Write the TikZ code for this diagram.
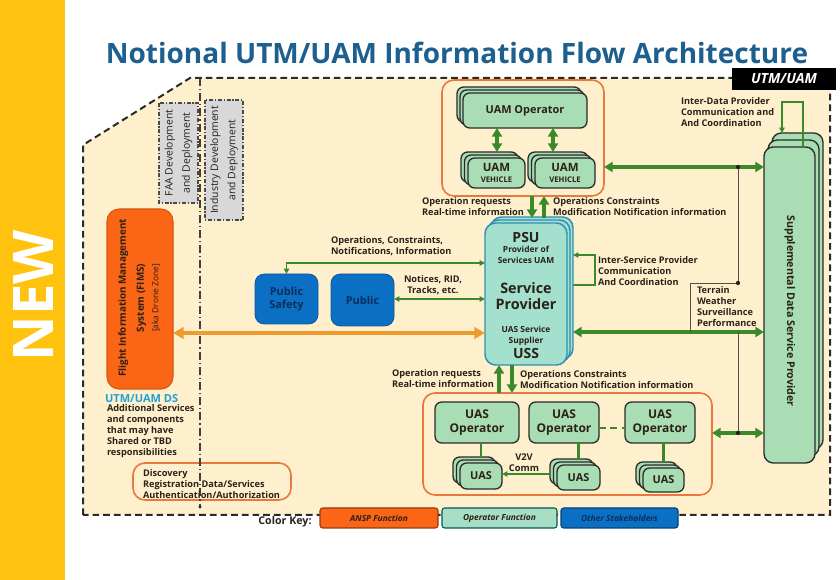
\documentclass[tikz,border=0pt]{standalone}
\usepackage{fontspec}
\setmainfont{Open Sans}
\usetikzlibrary{arrows.meta,calc}

\definecolor{gold}{HTML}{FFC20E}
\definecolor{beige}{HTML}{FEF0CD}
\definecolor{titleblue}{HTML}{1D5F8F}
\definecolor{opgreen}{HTML}{A9DDB3}
\definecolor{psufill}{HTML}{A3E0CD}
\definecolor{psuedge}{HTML}{2F8FB3}
\definecolor{linkgreen}{HTML}{3A8A2C}
\definecolor{ansp}{HTML}{FA6516}
\definecolor{grpedge}{HTML}{E8783E}
\definecolor{stake}{HTML}{0B70C4}
\definecolor{staketext}{HTML}{0B2E5C}
\definecolor{devgray}{HTML}{D8D8D8}
\definecolor{dsblue}{HTML}{22A0D8}
\definecolor{ink}{HTML}{2B2118}
\definecolor{flowor}{HTML}{EE9A2E}
\definecolor{edge}{HTML}{2A2A2A}
\definecolor{keyop}{HTML}{A8DEC6}

% box from corner (x1,y1) to (x2,y2), measured in pixels
\newcommand\bx[7]{%
  \node[#6, minimum width={(#4-#2)*0.75pt}, minimum height={(#5-#3)*0.75pt}]
    (#1) at ({(#2+#4)/2},{(#3+#5)/2}) {#7};}
% two copies behind a box, shifted by (dx,dy) and 2(dx,dy)
\newcommand\backs[7]{%
  \path[#7] ({#1+2*(#5)},{#2+2*(#6)}) rectangle ({#3+2*(#5)},{#4+2*(#6)});
  \path[#7] ({#1+(#5)},{#2+(#6)}) rectangle ({#3+(#5)},{#4+(#6)});}
\newcommand\lblfont{\fontsize{6.9}{8.25}\selectfont\bfseries}

\begin{document}
\begin{tikzpicture}[
  x=0.75pt, y=-0.75pt,
  every node/.style={inner sep=0pt, outer sep=0pt, text=ink},
  lbl/.style={font=\lblfont, align=left},
  grp/.style={draw=grpedge, line width=1.2pt, rounded corners=9pt},
  opbox/.style={draw=edge, line width=1pt, fill=opgreen, rounded corners=5pt},
  psubox/.style={draw=psuedge, line width=1.1pt, fill=psufill, rounded corners=8pt},
  stakebox/.style={draw=stake!80!black, line width=0.6pt, fill=stake, rounded corners=7pt, align=center, text=staketext, font=\fontsize{8.2}{10}\selectfont\bfseries},
  devbox/.style={draw=edge!85, line width=1pt, fill=devgray, dash pattern=on 3pt off 1.4pt on 0.8pt off 1.4pt},
  fimsbox/.style={draw=ansp!85!black, line width=0.8pt, fill=ansp, rounded corners=9pt},
  keybox/.style={line width=0.8pt, rounded corners=2pt, font=\fontsize{6.3}{7}\selectfont\bfseries\itshape},
  biglink/.style={draw=linkgreen, line width=2.4pt, >={Triangle[length=6.5pt,width=7.5pt]}},
  thinlink/.style={draw=linkgreen, line width=1.1pt, >={Triangle[length=4pt,width=4pt]}},
  flow/.style={draw=flowor, line width=2.8pt, >={Triangle[length=8pt,width=8.5pt]}},
  tline/.style={draw=ink!80, line width=0.7pt},
  frame/.style={draw=edge, line width=1.5pt, dash pattern=on 5pt off 3pt},
  divider/.style={draw=edge!90, line width=1pt, dash pattern=on 6pt off 2.2pt on 1pt off 2.2pt},
]
\useasboundingbox (0,0) rectangle (840,580);
\fill[white] (0,0) rectangle (840,580);

% side banner
\fill[gold] (0,0) rectangle (65,580);
\node[rotate=90, text=white, font=\fontsize{42}{42}\selectfont\bfseries] (newtag) at (34,296) {NEW};

% heading
\node[font=\fontsize{21}{24}\selectfont\bfseries, text=titleblue] (title) at (457,53)
  {Notional UTM/UAM Information Flow Architecture};

% UTM/UAM domain
\fill[beige] (190,78) -- (830,78) -- (830,515) -- (83,515) -- (83,145) -- cycle;
\draw[frame] (83,515) -- (83,145) -- (190,78) -- (830,78) -- (830,515) -- cycle;
\node[fill=black, text=white, font=\fontsize{10.5}{12}\selectfont\bfseries\itshape,
  minimum width=104*0.75pt, minimum height=22*0.75pt] (utmtag) at (784,79) {UTM/UAM};

% FAA / industry split
\bx{discovery}{133}{463}{291}{500}{grp}{}
\draw[divider] (200,78) -- (200,507);
\fill[edge] (200,507) circle (1.2pt);
\node[devbox, rotate=90, minimum width=100*0.75pt, minimum height=39*0.75pt, align=center,
  font=\fontsize{7.8}{13}\selectfont] (faa) at (178.5,153) {FAA Development\\and Deployment};
\node[devbox, rotate=90, minimum width=120*0.75pt, minimum height=38*0.75pt, align=center,
  font=\fontsize{7.8}{13}\selectfont] (industry) at (224,160) {Industry Development\\and Deployment};

% FIMS
\bx{fims}{107}{209}{173}{389}{fimsbox}{}
\node[rotate=90, align=center, text=ink, font=\fontsize{7.4}{13.5}\selectfont\bfseries] (fimsT) at (139,298)
  {Flight Information Management\\System (FIMS)\\[-2.5pt]{\mdseries\fontsize{6.3}{8}\selectfont [aka Drone Zone]}};
\node[anchor=west, text=dsblue, font=\fontsize{8.3}{10}\selectfont\bfseries] (dslabel) at (105,399) {UTM/UAM DS};
\node[lbl, anchor=north west] (dsnote) at (107,405)
  {Additional Services\\and components\\that may have\\Shared or TBD\\responsibilities};
\node[lbl, anchor=west] (discT) at (143,484)
  {Discovery\\Registration Data/Services\\Authentication/Authorization};

% stakeholders
\bx{psafety}{255}{274}{318}{324}{stakebox}{Public\\Safety}
\bx{public}{331}{274}{394}{326}{stakebox}{Public}

% provider of services
\backs{485}{223}{567}{365}{3}{-3}{psubox}
\bx{psu}{485}{223}{567}{365}{psubox}{}
\node[font=\fontsize{10.5}{11}\selectfont\bfseries] (psuT) at (526,238) {PSU};
\node[font=\fontsize{6.3}{8}\selectfont\bfseries, align=center] (psuU) at (526,255) {Provider of\\Services UAM};
\node[font=\fontsize{10.8}{11.8}\selectfont\bfseries, align=center] (psuM) at (526,296) {Service\\Provider};
\node[font=\fontsize{6.3}{8}\selectfont\bfseries, align=center] (psuS) at (526,336) {UAS Service\\Supplier};
\node[font=\fontsize{10.5}{11}\selectfont\bfseries] (psuB) at (526,354) {USS};

% UAM side
\bx{uamgrp}{442}{80}{604}{196}{grp}{}
\backs{463}{93}{587}{128}{-3}{-3}{opbox}
\bx{uamop}{463}{93}{587}{128}{opbox, font=\fontsize{8.2}{9}\selectfont\bfseries}{UAM Operator}
\backs{468}{158}{525}{188}{-3.5}{-3}{opbox}
\bx{uamv1}{468}{158}{525}{188}{opbox, align=center, font=\fontsize{8.6}{9}\selectfont\bfseries}{UAM\\[-1pt]{\fontsize{5.8}{7}\selectfont VEHICLE}}
\backs{535}{158}{595}{188}{-3.5}{-3}{opbox}
\bx{uamv2}{535}{158}{595}{188}{opbox, align=center, font=\fontsize{8.6}{9}\selectfont\bfseries}{UAM\\[-1pt]{\fontsize{5.8}{7}\selectfont VEHICLE}}

% UAS side
\bx{uasgrp}{423}{393}{712}{495}{grp}{}
\bx{uasop1}{435}{402}{519}{443}{opbox, align=center, font=\fontsize{9}{10}\selectfont\bfseries}{UAS\\Operator}
\bx{uasop2}{529}{402}{599}{443}{opbox, align=center, font=\fontsize{9}{10}\selectfont\bfseries}{UAS\\Operator}
\bx{uasop3}{625}{402}{695}{443}{opbox, align=center, font=\fontsize{9}{10}\selectfont\bfseries}{UAS\\Operator}
\backs{460}{463}{502}{489}{-3.5}{-3}{opbox}
\bx{uas1}{460}{463}{502}{489}{opbox, font=\fontsize{8.2}{9}\selectfont\bfseries}{UAS}
\backs{557}{465}{600}{490}{-3.5}{-3}{opbox}
\bx{uas2}{557}{465}{600}{490}{opbox, font=\fontsize{8.2}{9}\selectfont\bfseries}{UAS}
\backs{643}{468}{684}{492}{-3.5}{-3}{opbox}
\bx{uas3}{643}{468}{684}{492}{opbox, font=\fontsize{8.2}{9}\selectfont\bfseries}{UAS}

% supplemental data
\backs{764}{147}{815}{463}{4}{-7}{opbox,rounded corners=7pt}
\bx{sdsp}{764}{147}{815}{463}{opbox,rounded corners=7pt}{}
\node[rotate=-90, font=\fontsize{8}{9}\selectfont\bfseries] (sdspT) at (790,311) {Supplemental Data Service Provider};

% links: UAM <-> PSU
\coordinate (xa) at (532,0); \coordinate (xb) at (544,0);
\draw[biglink,->] (uamgrp.south -| xa) -- ($(psu.north -| xa)+(0,-5)$);
\draw[biglink,->] ($(psu.north -| xb)+(0,-5)$) -- (uamgrp.south -| xb);
\node[lbl, anchor=west] (lblUamReq) at (422,206.5) {Operation requests\\Real-time information};
\node[lbl, anchor=west] (lblUamCon) at (553,207) {Operations Constraints\\Modification Notification information};

% links: PSU <-> UAS
\coordinate (xc) at (499,0); \coordinate (xd) at (512,0);
\draw[biglink,->] (uasgrp.north -| xc) -- (psu.south -| xc);
\draw[biglink,->] (psu.south -| xd) -- (uasgrp.north -| xd);
\node[lbl, anchor=west] (lblUasReq) at (392,379) {Operation requests\\Real-time information};
\node[lbl, anchor=west] (lblUasCon) at (520,380) {Operations Constraints\\Modification Notification information};

% UAM operator <-> vehicles
\coordinate (xv1) at (497,0); \coordinate (xv2) at (553,0);
\draw[biglink,<->] (uamop.south -| xv1) -- ($(uamv1.north -| xv1)+(0,-6)$);
\draw[biglink,<->] (uamop.south -| xv2) -- ($(uamv2.north -| xv2)+(0,-6)$);

% UAS operators to their aircraft
\draw[biglink, line width=2.2pt] (uasop1.south -| uas1.north) -- ($(uas1.north)+(0,-6)$);
\draw[biglink, line width=2.2pt] (uasop2.south -| uas2.north) -- ($(uas2.north)+(0,-6)$);
\draw[biglink, line width=2.2pt] (uasop3.south -| uas3.north) -- ($(uas3.north)+(0,-6)$);
\coordinate (yop) at (0,428);
\draw[biglink, line width=2.2pt, dash pattern=on 5pt off 3.5pt] (uasop2.east |- yop) -- (uasop3.west |- yop);
\coordinate (yv2v) at (0,474);
\draw[thinlink,->] ($(uas2.west |- yv2v)+(-6,0)$) -- (uas1.east |- yv2v);
\node[font=\fontsize{7}{8.5}\selectfont\bfseries, align=center] (v2v) at (524,463) {V2V\\Comm};

% FIMS <-> PSU
\coordinate (yor) at (0,333);
\draw[flow,<->] (fims.east |- yor) -- (psu.west |- yor);

% stakeholders <-> PSU
\coordinate (yops) at (0,263); \coordinate (ypub) at (0,299);
\draw[thinlink,<->] (psu.west |- yops) -| (psafety.north);
\draw[thinlink,<->] (psu.west |- ypub) -- (public.east |- ypub);
\node[lbl, anchor=west] (lblOps) at (331,246.5) {Operations, Constraints,\\Notifications, Information};
\node[lbl, align=center] (lblNot) at (433,285.5) {Notices, RID,\\Tracks, etc.};

% inter-service loop
\coordinate (isA) at (595,285); \coordinate (isB) at (595,255);
\draw[thinlink,->] ($(psu.east |- isA)+(6,0)$) -- (isA) -- (isB) -- ($(psu.east |- isB)+(6,0)$);
\node[lbl, anchor=west] (lblIS) at (598,271) {Inter-Service Provider\\Communication\\And Coordination};

% supplemental data links
\coordinate (yuam) at (0,167); \coordinate (ypsu) at (0,332); \coordinate (yuas) at (0,433);
\draw[biglink,<->] (uamgrp.east |- yuam) -- (sdsp.west |- yuam);
\draw[biglink,<->] ($(psu.east |- ypsu)+(6,0)$) -- (sdsp.west |- ypsu);
\draw[biglink,<->] (uasgrp.east |- yuas) -- (sdsp.west |- yuas);

\coordinate (j1) at (738,167); \coordinate (j2) at (738,283);
\coordinate (j4) at (738,332); \coordinate (j3) at (738,433);
\coordinate (tA) at (690,283); \coordinate (tB) at (690,332);
\draw[tline] (j1) -- (j2) -- (tA) -- (tB);
\draw[tline] (j4) -- (j3);
\foreach \j in {j1,j2,j3} \fill[ink] (\j) circle (1.6pt);
\node[lbl, anchor=west] (lblTer) at (697,307) {Terrain\\Weather\\Surveillance\\Performance};

% inter-data loop
\coordinate (idA) at (803,102); \coordinate (idB) at (782,102);
\draw[thinlink,->] (sdsp.north -| idA) -- (idA) -- (idB) -- ($(sdsp.north -| idB)+(0,-14)$);
\node[lbl, anchor=west] (lblID) at (681,112.5) {Inter-Data Provider\\Communication and\\And Coordination};

% colour key
\node[font=\fontsize{8}{9}\selectfont\bfseries] (keylbl) at (285,522) {Color Key:};
\bx{keyansp}{320}{508}{438}{528}{keybox, draw=ansp!60!black, fill=ansp, text=ink}{ANSP Function}
\bx{keyoper}{442}{508}{557}{528}{keybox, draw=teal!70!black, fill=keyop, text=ink}{Operator Function}
\bx{keyother}{561}{508}{678}{528}{keybox, draw=stake!60!black, fill=stake, text=staketext}{Other Stakeholders}
\end{tikzpicture}
\end{document}
